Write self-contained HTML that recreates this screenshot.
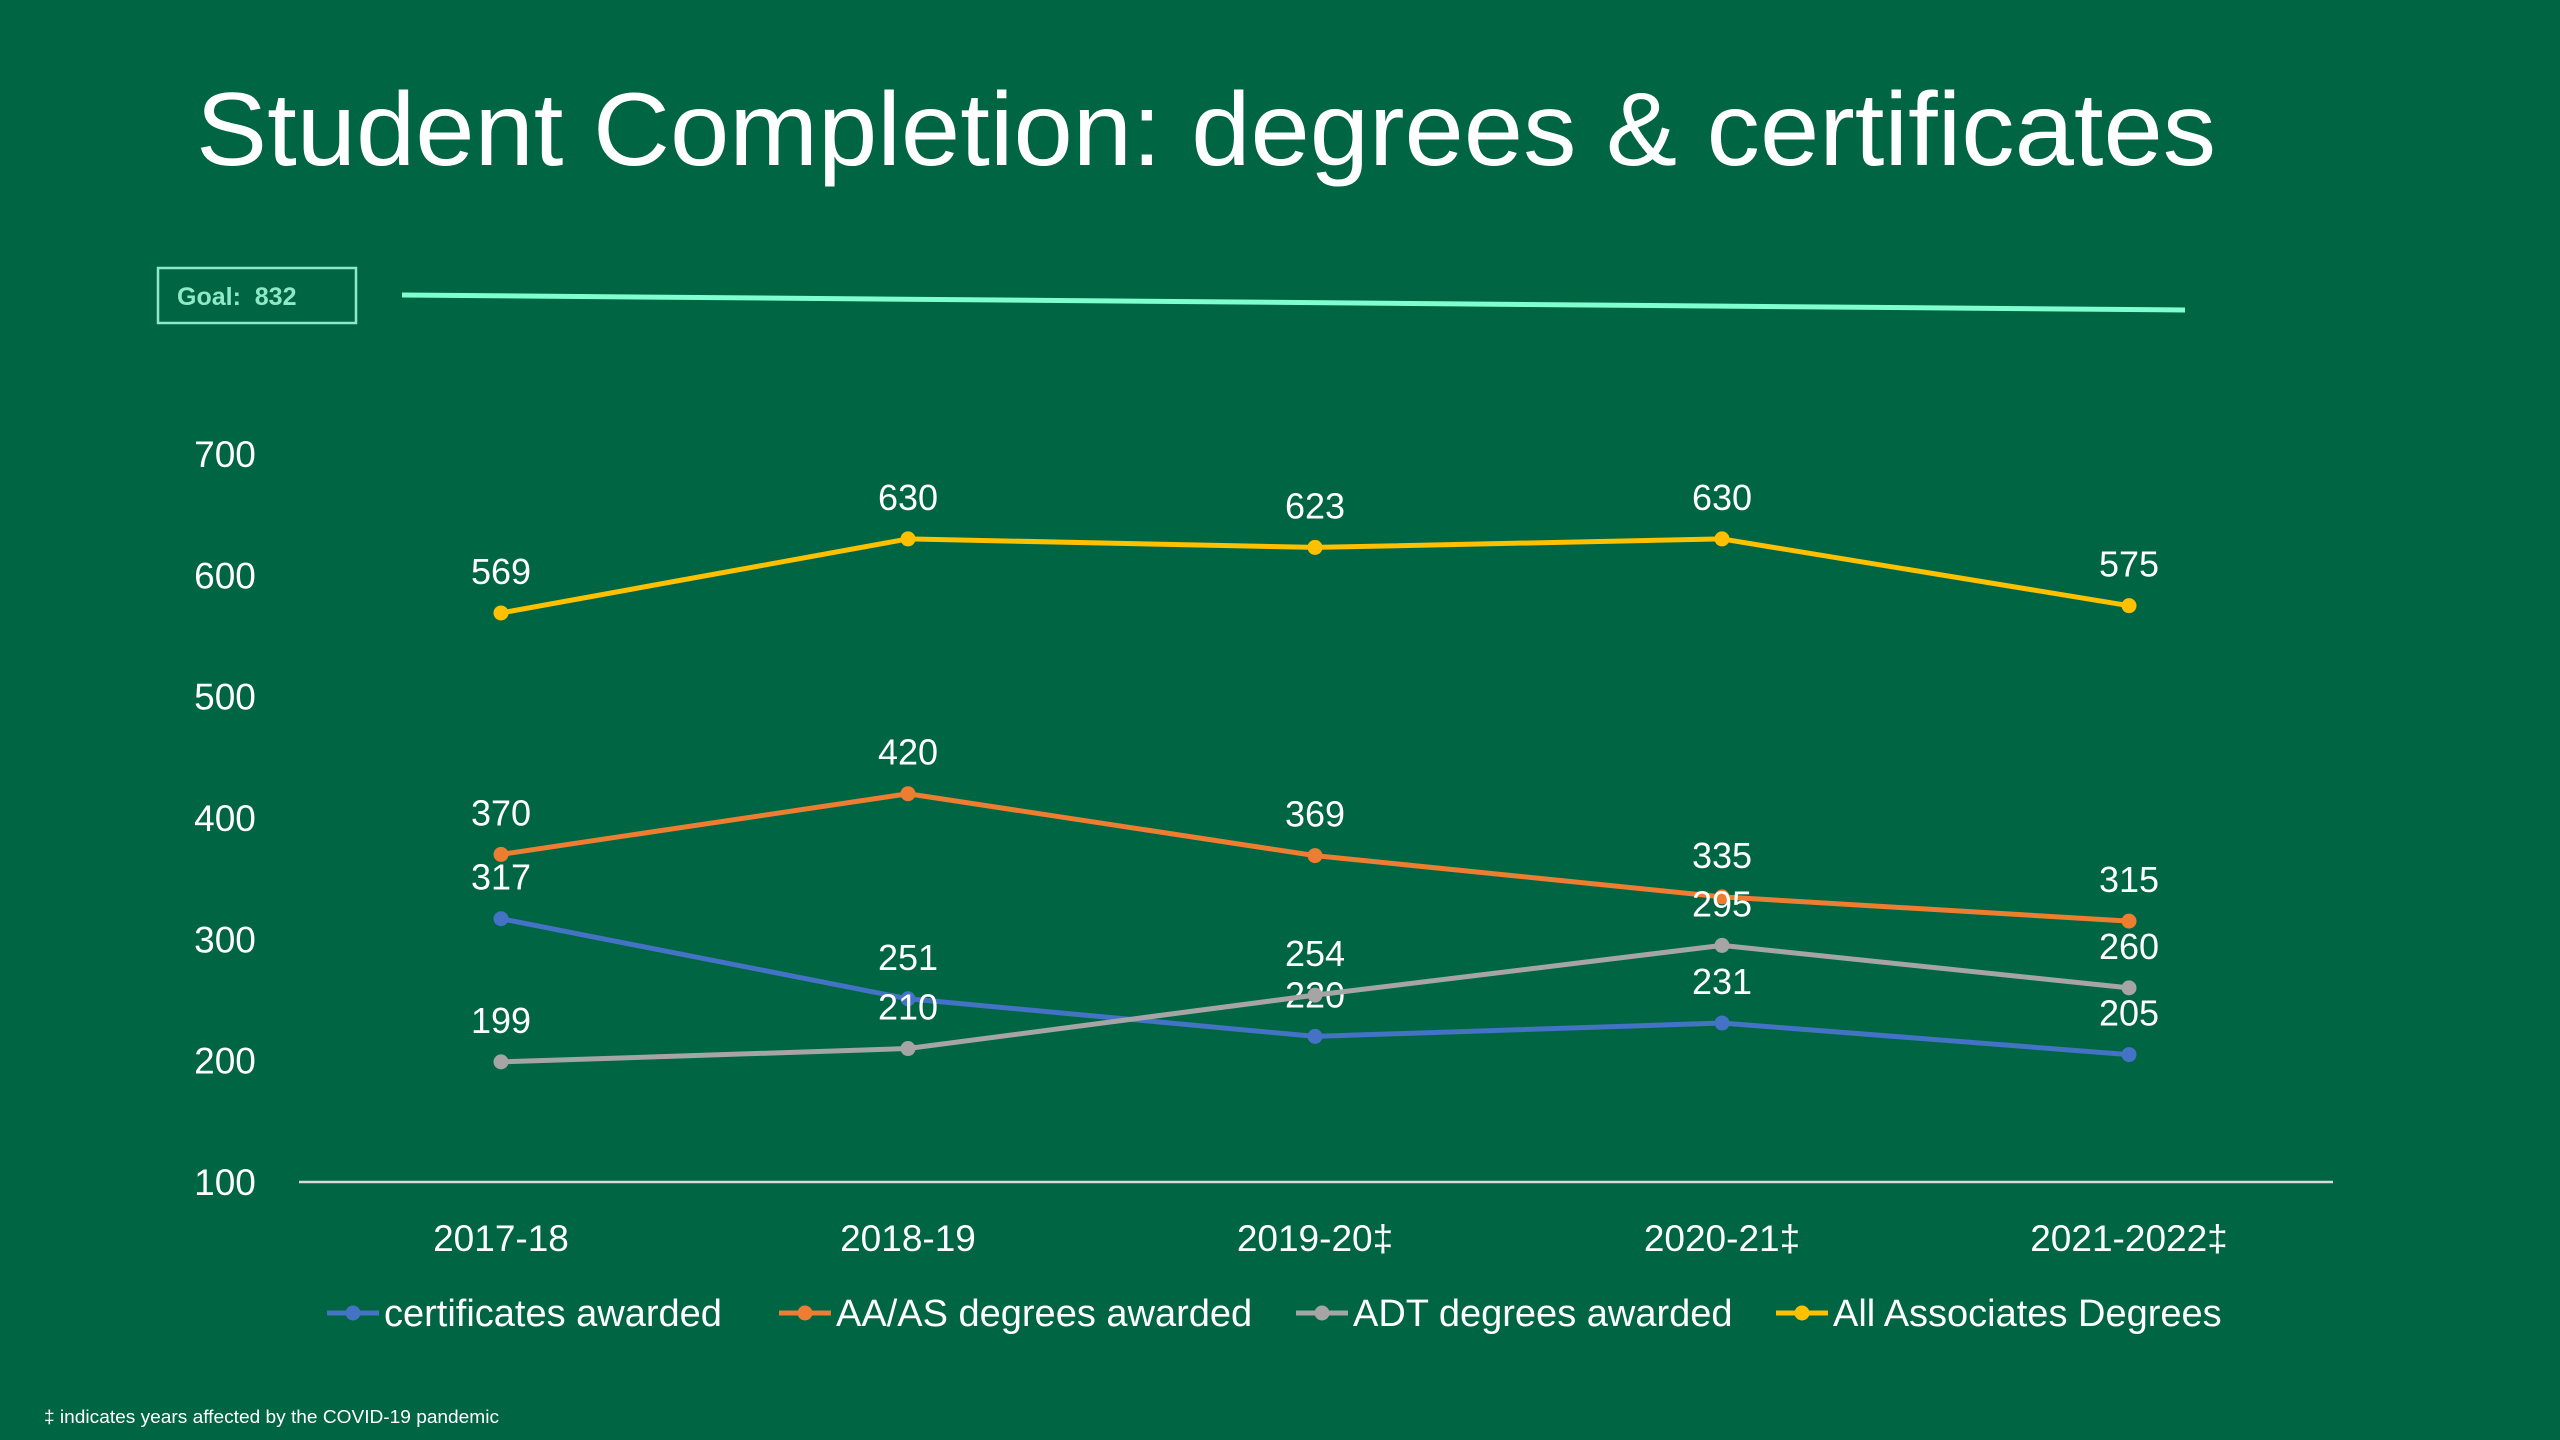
<!DOCTYPE html>
<html><head><meta charset="utf-8"><style>
html,body{margin:0;padding:0;background:#006543;}
svg{display:block;font-family:"Liberation Sans",sans-serif;}
</style></head><body>
<svg id="chart" width="2560" height="1440" viewBox="0 0 2560 1440" xmlns="http://www.w3.org/2000/svg">
<rect width="2560" height="1440" fill="#006543"/>
<text x="196" y="165" font-size="104" fill="#ffffff" textLength="2020" lengthAdjust="spacingAndGlyphs">Student Completion: degrees &amp; certificates</text>
<rect x="158" y="268" width="198" height="55" fill="none" stroke="#8fe8c8" stroke-width="2.5"/>
<text x="177" y="305" font-size="25" font-weight="bold" fill="#8fe8c8">Goal:&#160; 832</text>
<line x1="402" y1="295" x2="2185" y2="310" stroke="#7fffd0" stroke-width="5"/>
<g id="axes"></g>
<g id="series"></g>
<g id="legend"></g>
<text x="44" y="1423" font-size="18" fill="#ffffff" textLength="455" lengthAdjust="spacingAndGlyphs">‡ indicates years affected by the COVID-19 pandemic</text>
</svg>
<script>
const categories = ["2017-18","2018-19","2019-20‡","2020-21‡","2021-2022‡"];
const certificates = [317,251,220,231,205];
const aaas = [370,420,369,335,315];
const adt = [199,210,254,295,260];
const allAssoc = [569,630,623,630,575];
const yTicks = [100,200,300,400,500,600,700];
const seriesNames = ["certificates awarded","AA/AS degrees awarded","ADT degrees awarded","All Associates Degrees"];

const NS = "http://www.w3.org/2000/svg";
function mk(tag, attrs, parent){const e=document.createElementNS(NS,tag);for(const k in attrs)e.setAttribute(k,attrs[k]);parent.appendChild(e);return e;}
const x = i => 501 + i*407;
const y = v => 1182 - (v-100)*(728/600);
const axes = document.getElementById('axes');
const sg = document.getElementById('series');
const lg = document.getElementById('legend');

const axisLine = mk('line',{x1:299,x2:2333,y1:y(100),y2:y(100),stroke:'#d9d9d9','stroke-width':2.5},axes);


yTicks.forEach(t=>{
  const e = mk('text',{x:225,y:y(t)+13,'font-size':37,fill:'#fff','text-anchor':'middle'},axes);
  e.textContent = t;
  
  
});
categories.forEach((c,i)=>{
  const e = mk('text',{x:x(i),y:1251,'font-size':37,fill:'#fff','text-anchor':'middle'},axes);
  e.textContent = c;
  
  
});

const allSeries = [certificates, aaas, adt, allAssoc];
const colors = ["#4472c4","#ed7d31","#a5a5a5","#ffc000"];
const slugs = ["certificates","aa-as","adt","all-associates"];
allSeries.forEach((vals,s)=>{
  const pts = vals.map((v,i)=>x(i)+','+y(v)).join(' ');
  const pl = mk('polyline',{points:pts,fill:'none',stroke:colors[s],'stroke-width':5,'stroke-linejoin':'round'},sg);
  
  
  vals.forEach((v,i)=>{
    const c = mk('circle',{cx:x(i),cy:y(v),r:7.5,fill:colors[s]},sg);
    
    
    const t = mk('text',{x:x(i),y:y(v)-29,'font-size':36,fill:'#fff','text-anchor':'middle'},sg);
    t.textContent = v;
    
    
  });
});

const legX = [327,779,1296,1776];
seriesNames.forEach((n,s)=>{
  const g = mk('g',{},lg);
  
  
  mk('line',{x1:legX[s],x2:legX[s]+52,y1:1313,y2:1313,stroke:colors[s],'stroke-width':5},g);
  mk('circle',{cx:legX[s]+26,cy:1313,r:7.5,fill:colors[s]},g);
  const t = mk('text',{x:legX[s]+57,y:1326,'font-size':38,fill:'#fff'},g);
  t.textContent = n;
});
</script>
</body></html>
